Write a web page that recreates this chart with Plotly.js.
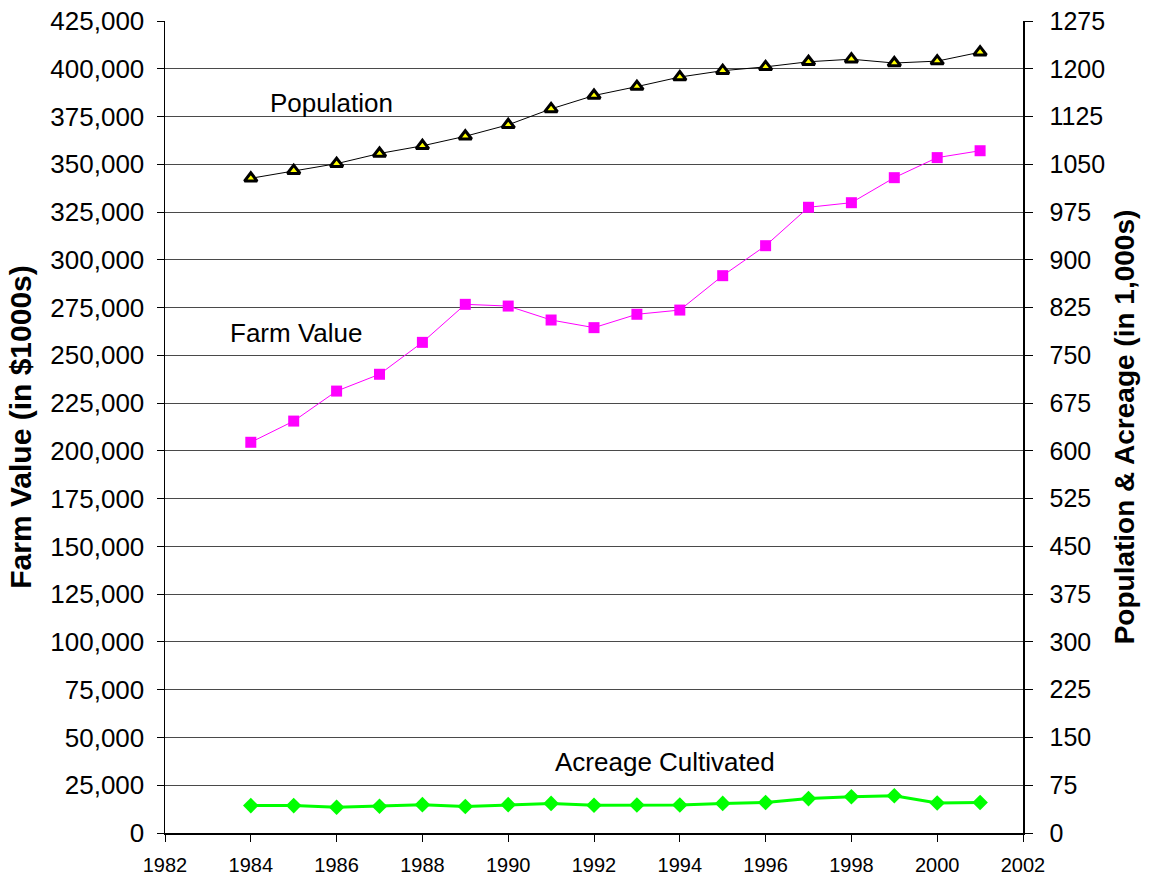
<!DOCTYPE html>
<html>
<head>
<meta charset="utf-8">
<script src="https://cdn.plot.ly/plotly-3.0.1.min.js"></script>
<style>html,body{margin:0;padding:0;background:#fff;}#chart{width:1149px;height:878px;}</style>
</head>
<body>
<div id="chart"></div>
<script>
const years = [1984,1985,1986,1987,1988,1989,1990,1991,1992,1993,1994,1995,1996,1997,1998,1999,2000,2001];
const farmValue = [204500,215600,231300,240100,256800,276700,275800,268500,264500,271500,273700,291700,307400,327500,329900,343000,353500,357100];
const population = [1028,1040,1051,1067,1079,1094,1112,1137,1158,1172,1187,1197,1203,1211,1215,1209,1212,1226];
const acreage = [43,43,40.5,42,44.5,41.5,44.5,46.5,43.5,44,44,46.5,48,54,57,58.5,47,48];
const leftTicks = [0,25000,50000,75000,100000,125000,150000,175000,200000,225000,250000,275000,300000,325000,350000,375000,400000,425000];
const leftTickText = ["0","25,000","50,000","75,000","100,000","125,000","150,000","175,000","200,000","225,000","250,000","275,000","300,000","325,000","350,000","375,000","400,000","425,000"];
const rightTicks = [0,75,150,225,300,375,450,525,600,675,750,825,900,975,1050,1125,1200,1275];
const xTicks = [1982,1984,1986,1988,1990,1992,1994,1996,1998,2000,2002];

const FONT = '"Liberation Sans", Arial, sans-serif';

const traces = [
  {x: years, y: farmValue, yaxis: 'y', type: 'scatter', mode: 'lines+markers',
   line: {color: '#FF00FF', width: 1},
   marker: {symbol: 'square', size: 11, color: '#FF00FF'}, name: 'Farm Value'},
  {x: years, y: population, yaxis: 'y2', type: 'scatter', mode: 'lines+markers',
   line: {color: '#000000', width: 1},
   marker: {symbol: 'triangle-up', size: 11, color: '#FFFF00', line: {color: '#000000', width: 3}}, name: 'Population'},
  {x: years, y: acreage, yaxis: 'y2', type: 'scatter', mode: 'lines+markers',
   line: {color: '#00FF00', width: 3},
   marker: {symbol: 'diamond', size: 12, color: '#00FF00'}, name: 'Acreage Cultivated'}
];

const layout = {
  width: 1149, height: 878,
  margin: {l: 165, r: 126, t: 21, b: 45},
  paper_bgcolor: '#ffffff', plot_bgcolor: '#ffffff',
  showlegend: false,
  font: {family: FONT, color: '#000'},
  xaxis: {
    range: [1982, 2002], tickmode: 'array', tickvals: xTicks,
    ticks: 'outside', ticklen: 7, tickcolor: '#000',
    showgrid: false, zeroline: false,
    showline: true, linecolor: '#000', linewidth: 1.5,
    tickfont: {size: 20, family: FONT}, ticklabelstandoff: 6
  },
  yaxis: {
    range: [0, 425000], tickmode: 'array', tickvals: leftTicks, ticktext: leftTickText,
    ticks: 'outside', ticklen: 7, tickcolor: '#000',
    showgrid: true, gridcolor: '#4a4a4a', gridwidth: 1, zeroline: false,
    showline: true, linecolor: '#000', linewidth: 1.5,
    tickfont: {size: 26, family: FONT}, ticklabelstandoff: 7,
    title: {text: 'Farm Value (in $1000s)', font: {size: 30, family: FONT, weight: 'bold'}, standoff: 10}
  },
  yaxis2: {
    range: [0, 1275], tickmode: 'array', tickvals: rightTicks,
    overlaying: 'y', side: 'right',
    ticks: 'outside', ticklen: 8, tickcolor: '#000',
    showgrid: false, zeroline: false,
    showline: true, linecolor: '#000', linewidth: 1.5,
    tickfont: {size: 25, family: FONT}, ticklabelstandoff: 12,
    title: {text: 'Population &amp; Acreage (in 1,000s)', font: {size: 28, family: FONT, weight: 'bold'}, standoff: 10}
  },
  annotations: [
    {text: 'Population', x: 1985.87, y: 382000, xref: 'x', yref: 'y', showarrow: false, font: {size: 26, family: FONT}},
    {text: 'Farm Value', x: 1985.05, y: 261500, xref: 'x', yref: 'y', showarrow: false, font: {size: 26, family: FONT}},
    {text: 'Acreage Cultivated', x: 1993.65, y: 37000, xref: 'x', yref: 'y', showarrow: false, font: {size: 26, family: FONT}}
  ]
};

Plotly.newPlot('chart', traces, layout, {staticPlot: true, displayModeBar: false});
</script>
</body>
</html>
